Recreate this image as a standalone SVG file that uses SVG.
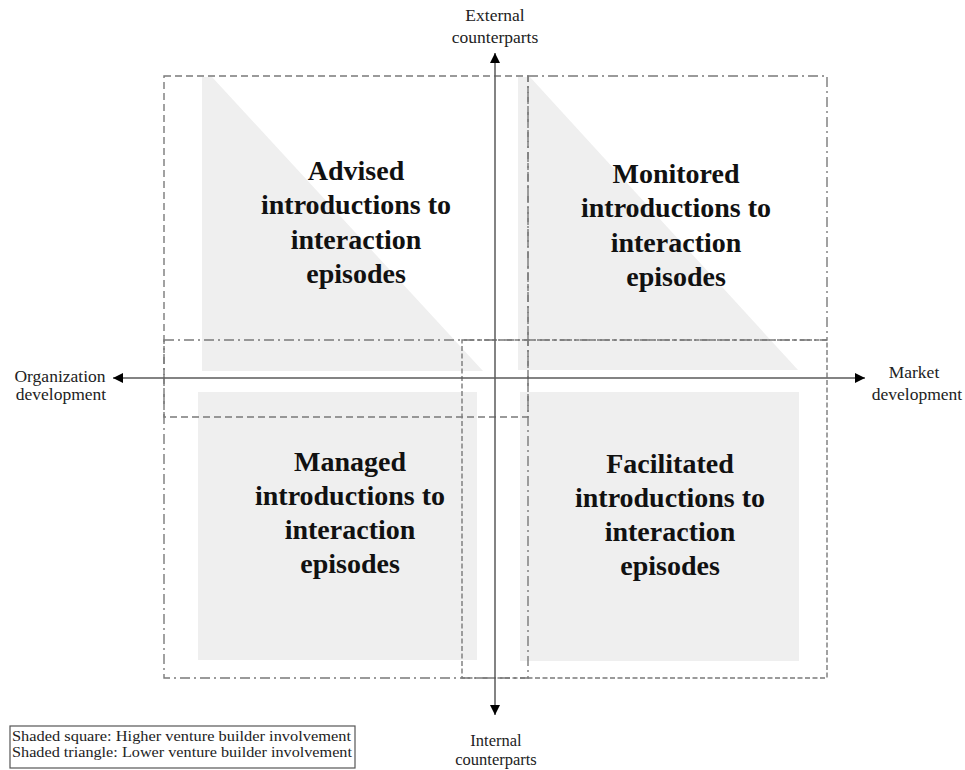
<svg xmlns="http://www.w3.org/2000/svg" width="965" height="770" viewBox="0 0 965 770">
  <style>
    .shade { fill: #efefef; stroke: none; }
    .dash { fill: none; stroke: #7a7a7a; stroke-width: 1.4; stroke-dasharray: 7 4; }
    .dashs { fill: none; stroke: #7a7a7a; stroke-width: 1.4; stroke-dasharray: 5 2.5; }
    .dashdot { fill: none; stroke: #7a7a7a; stroke-width: 1.4; stroke-dasharray: 10 4 2 4; }
    .axis { stroke: #5a5a5a; stroke-width: 1.5; fill: none; }
    .big { font-family: "Liberation Serif", "Times New Roman", serif; font-weight: bold; font-size: 28px; fill: #111; text-anchor: middle; }
    .lab { font-family: "Liberation Serif", "Times New Roman", serif; font-size: 17.5px; fill: #222; text-anchor: middle; }
    .labs { font-family: "Liberation Serif", "Times New Roman", serif; font-size: 16.5px; fill: #222; text-anchor: middle; }
    .leg { font-family: "Liberation Serif", "Times New Roman", serif; font-size: 15.5px; fill: #222; }
  </style>
  <defs>
    <marker id="arr" viewBox="0 0 10 10" refX="10" refY="5" markerWidth="10" markerHeight="11" markerUnits="userSpaceOnUse" orient="auto-start-reverse">
      <path d="M0,0 L10,5 L0,10 z" fill="#000"/>
    </marker>
  </defs>
  <rect width="965" height="770" fill="#fff"/>

  <g id="shading">
    <polygon class="shade" points="202,77 212,77 483,371 202,371"/>
    <polygon class="shade" points="518,77 530,77 798,370 518,370"/>
    <rect class="shade" x="198" y="392" width="279" height="268"/>
    <rect class="shade" x="520" y="392" width="279" height="269"/>
  </g>

  <g id="boxes">
    <rect id="box-tl" class="dash" x="164" y="76" width="364" height="341"/>
    <rect id="box-br" class="dashs" x="462" y="340" width="365" height="338"/>
    <rect id="box-tr" class="dashdot" x="528" y="76" width="299" height="264"/>
    <rect id="box-bl" class="dashdot" x="164" y="340" width="364" height="338"/>
  </g>

  <g id="connectors">
    <line class="axis" x1="495" y1="715" x2="495" y2="53" marker-start="url(#arr)" marker-end="url(#arr)"/>
    <line class="axis" x1="113" y1="378" x2="865" y2="378" marker-start="url(#arr)" marker-end="url(#arr)"/>
  </g>

  <g id="advised">
    <text class="big" x="356"><tspan x="356" y="180">Advised</tspan><tspan x="356" y="214.3">introductions to</tspan><tspan x="356" y="248.6">interaction</tspan><tspan x="356" y="282.9">episodes</tspan></text>
  </g>
  <g id="monitored">
    <text class="big" x="676"><tspan x="676" y="183">Monitored</tspan><tspan x="676" y="217.3">introductions to</tspan><tspan x="676" y="251.6">interaction</tspan><tspan x="676" y="285.9">episodes</tspan></text>
  </g>
  <g id="managed">
    <text class="big" x="350"><tspan x="350" y="470.5">Managed</tspan><tspan x="350" y="504.8">introductions to</tspan><tspan x="350" y="539.1">interaction</tspan><tspan x="350" y="573.4">episodes</tspan></text>
  </g>
  <g id="facilitated">
    <text class="big" x="670"><tspan x="670" y="472.5">Facilitated</tspan><tspan x="670" y="506.8">introductions to</tspan><tspan x="670" y="541.1">interaction</tspan><tspan x="670" y="575.4">episodes</tspan></text>
  </g>

  <g id="axis-labels">
    <text class="lab"><tspan x="495" y="21">External</tspan><tspan x="495" y="43">counterparts</tspan></text>
    <text class="labs"><tspan x="496" y="746">Internal</tspan><tspan x="496" y="765">counterparts</tspan></text>
    <text class="lab"><tspan x="60" y="381.5">Organization</tspan><tspan x="61" y="400">development</tspan></text>
    <text class="lab"><tspan x="914" y="378">Market</tspan><tspan x="917" y="400">development</tspan></text>
  </g>

  <g id="legend">
    <rect x="10" y="726" width="345" height="42" fill="#fff" stroke="#555" stroke-width="1.2"/>
    <text class="leg" x="12" y="741" textLength="339" lengthAdjust="spacingAndGlyphs">Shaded square: Higher venture builder involvement</text>
    <text class="leg" x="12" y="757" textLength="340" lengthAdjust="spacingAndGlyphs">Shaded triangle: Lower venture builder involvement</text>
  </g>
</svg>
